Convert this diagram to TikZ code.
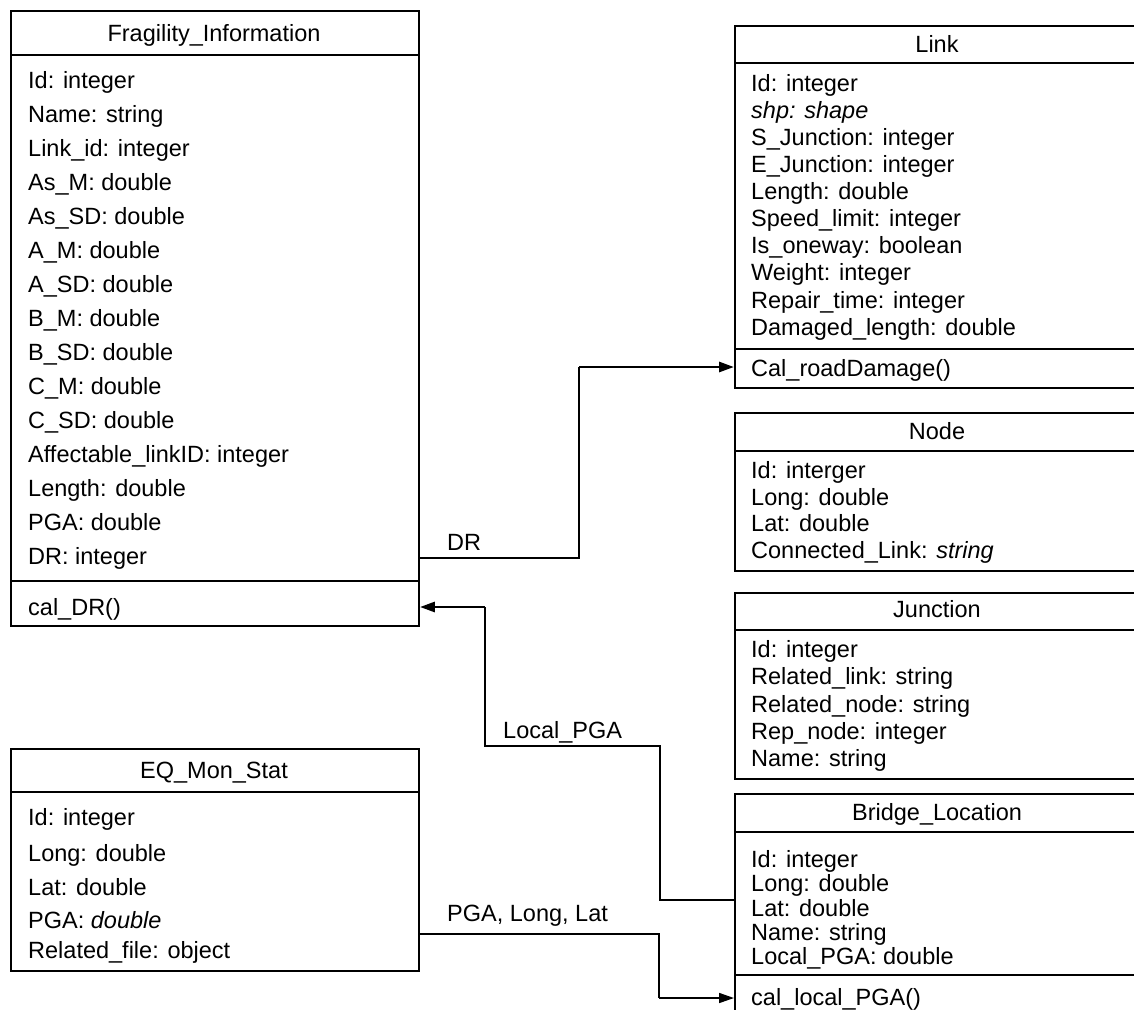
\documentclass[tikz,border=0pt]{standalone}
\usepackage{fontspec}
\setmainfont{Liberation Sans}
\usetikzlibrary{arrows.meta}
\begin{document}
\begin{tikzpicture}[x=1pt,y=-1pt,
  classbox/.style={draw=black, line width=1.9pt, fill=white, inner sep=0pt, anchor=north west},
  sepline/.style={draw=black, line width=1.5pt},
  attr/.style={anchor=base west, inner sep=0pt, font=\fontsize{23.5}{25}\selectfont},
  ctitle/.style={anchor=base, inner sep=0pt, font=\fontsize{23.5}{25}\selectfont},
  conn/.style={draw=black, line width=1.6pt},
  heavy/.style={draw=black, line width=2.8pt},
  tip/.style={-{Triangle[length=15pt,width=10pt]}},
]
\useasboundingbox (0,0) rectangle (1134,1009);
\clip (0,0) rectangle (1134,1009);

% ---------------- Fragility_Information
\node[classbox, minimum width=408pt, minimum height=615pt] (frag) at (10,10) {};
\draw[sepline] (10,55) -- (418,55);
\draw[sepline] (10,581) -- (418,581);
\node[ctitle] (fragT) at (214,41) {Fragility\_Information};
\foreach \t [count=\i from 0] in {Id: integer, Name: string, Link\_id: integer, As\_M: double, As\_SD: double, A\_M: double, A\_SD: double, B\_M: double, B\_SD: double, C\_M: double, C\_SD: double, Affectable\_linkID: integer, Length: double, PGA: double, DR: integer}
  \node[attr] (fragA\i) at (28,{88+34.07*\i}) {\t};
\node[attr] (fragM) at (28,615) {cal\_DR()};

% ---------------- Link
\node[classbox, minimum width=406pt, minimum height=362pt] (link) at (734,25) {};
\draw[sepline] (734,63) -- (1140,63);
\draw[sepline] (734,349) -- (1140,349);
\node[ctitle] (linkT) at (937,52) {Link};
\node[attr] (linkA0) at (751,91) {Id: integer};
\node[attr] (linkA1) at (751,118) {\itshape shp: shape};
\node[attr] (linkA2) at (751,145) {S\_Junction: integer};
\node[attr] (linkA3) at (751,172) {E\_Junction: integer};
\node[attr] (linkA4) at (751,199) {Length: double};
\node[attr] (linkA5) at (751,226) {Speed\_limit: integer};
\node[attr] (linkA6) at (751,253) {Is\_oneway: boolean};
\node[attr] (linkA7) at (751,280) {Weight: integer};
\node[attr] (linkA8) at (751,308) {Repair\_time: integer};
\node[attr] (linkA9) at (751,335) {Damaged\_length: double};
\node[attr] (linkM) at (751,376) {Cal\_roadDamage()};

% ---------------- Node
\node[classbox, minimum width=406pt, minimum height=158pt] (nodeC) at (734,412) {};
\draw[sepline] (734,451) -- (1140,451);
\node[ctitle] (nodeT) at (937,439) {Node};
\node[attr] (nodeA0) at (751,478) {Id: interger};
\node[attr] (nodeA1) at (751,505) {Long: double};
\node[attr] (nodeA2) at (751,531) {Lat: double};
\node[attr] (nodeA3) at (751,558) {Connected\_Link: \textit{string}};

% ---------------- Junction
\node[classbox, minimum width=406pt, minimum height=186pt] (junc) at (734,592) {};
\draw[sepline] (734,630) -- (1140,630);
\node[ctitle] (juncT) at (937,617) {Junction};
\node[attr] (juncA0) at (751,657) {Id: integer};
\node[attr] (juncA1) at (751,684) {Related\_link: string};
\node[attr] (juncA2) at (751,712) {Related\_node: string};
\node[attr] (juncA3) at (751,739) {Rep\_node: integer};
\node[attr] (juncA4) at (751,766) {Name: string};

% ---------------- Bridge_Location
\node[classbox, minimum width=406pt, minimum height=250pt] (bridge) at (734,793) {};
\draw[sepline] (734,832) -- (1140,832);
\draw[sepline] (734,975) -- (1140,975);
\node[ctitle] (bridgeT) at (937,820) {Bridge\_Location};
\node[attr] (bridgeA0) at (751,867) {Id: integer};
\node[attr] (bridgeA1) at (751,891) {Long: double};
\node[attr] (bridgeA2) at (751,916) {Lat: double};
\node[attr] (bridgeA3) at (751,940) {Name: string};
\node[attr] (bridgeA4) at (751,964) {Local\_PGA: double};
\node[attr] (bridgeM) at (751,1005) {cal\_local\_PGA()};

% ---------------- EQ_Mon_Stat
\node[classbox, minimum width=408pt, minimum height=222pt] (eq) at (10,748) {};
\draw[sepline] (10,792) -- (418,792);
\node[ctitle] (eqT) at (214,778) {EQ\_Mon\_Stat};
\node[attr] (eqA0) at (28,825) {Id: integer};
\node[attr] (eqA1) at (28,861) {Long: double};
\node[attr] (eqA2) at (28,895) {Lat: double};
\node[attr] (eqA3) at (28,928) {PGA: \textit{double}};
\node[attr] (eqA4) at (28,958) {Related\_file: object};

% ---------------- connectors
% DR
\coordinate (drS) at (frag.east |- 0,558);
\coordinate (drB) at (579,558);
\coordinate (drC) at (579,367);
\coordinate (drE) at (link.west |- 0,367);
\draw[conn] (drS) -- (drB) -- (drC);
\draw[heavy, tip] (drC) -- (drE);
\node[attr] (drL) at (447,550) {DR};

% Local_PGA
\coordinate (lpS) at (bridge.west |- 0,900);
\coordinate (lpB) at (660,900);
\coordinate (lpC) at (660,746);
\coordinate (lpD) at (485,746);
\coordinate (lpE) at (485,607);
\coordinate (lpF) at (frag.east |- 0,607);
\draw[conn] (lpS) -- (lpB) -- (lpC) -- (lpD) -- (lpE);
\draw[heavy, tip] (lpE) -- (lpF);
\node[attr] (lpL) at (503,738) {Local\_PGA};

% PGA, Long, Lat
\coordinate (pgS) at (eq.east |- 0,934);
\coordinate (pgB) at (659,934);
\coordinate (pgC) at (659,998);
\coordinate (pgE) at (bridge.west |- 0,998);
\draw[conn] (pgS) -- (pgB) -- (pgC);
\draw[conn, tip] (pgC) -- (pgE);
\node[attr] (pgL) at (447,921) {PGA, Long, Lat};
\end{tikzpicture}
\end{document}
